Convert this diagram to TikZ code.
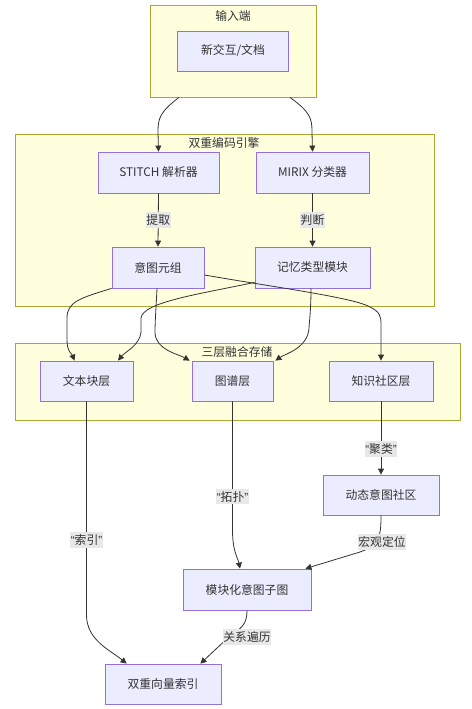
\documentclass[tikz,border=0pt]{standalone}
\usepackage{fontspec}
\setmainfont{Noto Sans CJK SC}
\newfontfamily\latq{Liberation Sans}
\newcommand{\myLQ}{{\latq “}}
\newcommand{\myRQ}{{\latq ”}}
\usetikzlibrary{arrows.meta,calc}
\definecolor{nodefill}{HTML}{ECECFF}
\definecolor{nodeline}{HTML}{9370DB}
\definecolor{clfill}{HTML}{FFFFDE}
\definecolor{clline}{HTML}{AAAA33}
\definecolor{txt}{HTML}{333333}
\definecolor{lblbg}{HTML}{E8E8E8}
\begin{document}
\begin{tikzpicture}[x=1pt,y=-1pt,
  box/.style={draw=nodeline, fill=nodefill, line width=0.8pt, text=txt, font=\fontsize{11.8}{13}\selectfont, inner sep=0pt, minimum height=41pt},
  cluster/.style={draw=clline, fill=clfill, line width=0.8pt, inner sep=0pt},
  title/.style={text=txt, font=\fontsize{11.8}{13}\selectfont, inner sep=0pt},
  lbl/.style={fill=lblbg, text=txt, font=\fontsize{11.8}{13}\selectfont, inner xsep=0.5pt, inner ysep=2.5pt},
  edge/.style={draw=txt, line width=0.8pt, -{Triangle[length=6pt,width=6pt]}}]
\useasboundingbox (0,0) rectangle (471,709);
\fill[white] (0,0) rectangle (471,709);
% clusters
\node[cluster, minimum width=166pt, minimum height=92pt] (c1) at (233,51) {};
\node[cluster, minimum width=419pt, minimum height=172pt] (c2) at (224.5,220) {};
\node[cluster, minimum width=445pt, minimum height=77pt] (c3) at (237.5,381.5) {};
\node[title] (t1) at (233,16) {输入端};
\node[title] (t2) at (224,143) {双重编码引擎};
\node[title] (t3) at (237,352) {三层融合存储};
% nodes
\node[box, minimum width=111pt, minimum height=40pt] (in) at (233,51) {新交互/文档};
\node[box, minimum width=121pt] (stitch) at (158.5,172.5) {STITCH 解析器};
\node[box, minimum width=113pt] (mirix) at (312.5,172.5) {MIRIX 分类器};
\node[box, minimum width=92pt] (tuple) at (158,267.5) {意图元组};
\node[box, minimum width=115pt] (memtype) at (312.5,267.5) {记忆类型模块};
\node[box, minimum width=93pt, minimum height=40pt] (text) at (86.5,381) {文本块层};
\node[box, minimum width=81pt, minimum height=40pt] (graph) at (232.5,381) {图谱层};
\node[box, minimum width=104pt, minimum height=40pt] (comm) at (381,381) {知识社区层};
\node[box, minimum width=116pt, minimum height=40pt] (dyn) at (381,495) {动态意图社区};
\node[box, minimum width=128pt] (sub) at (247,589.5) {模块化意图子图};
\node[box, minimum width=116pt, minimum height=40pt] (vec) at (163,684) {双重向量索引};
% edges
\draw[edge] ($(c1.south)+(-54,0)$) .. controls (160,112) and (158,118) .. (158,132) -- (stitch.north);
\draw[edge] ($(c1.south)+(57,0)$) .. controls (310,112) and (312,118) .. (312,132) -- (mirix.north);
\draw[edge] (stitch.south) -- node[lbl] {提取} (tuple.north);
\draw[edge] (mirix.south) -- node[lbl] {判断} (memtype.north);
\draw[edge] (tuple.south west) .. controls (80,298) and (67,302) .. (67,318) -- (67,340) .. controls (67,352) and (72,354) .. ($(text.north)+(-12,0)$);
\draw[edge] ($(memtype.south west)+(0,-6)$) .. controls (200,294) and (143,302) .. (141,318) -- (141,332) .. controls (140,345) and (125,352) .. ($(text.north)+(31.5,0)$);
\draw[edge] ($(tuple.south)+(-1,0)$) .. controls (156,310) and (155,320) .. (155,333) .. controls (156,350) and (178,354) .. ($(graph.north west)+(-2,0)$);
\draw[edge] ($(memtype.south)+(-1.5,0)$) .. controls (311,305) and (310,315) .. (309,328) .. controls (308,348) and (285,354) .. ($(graph.north east)+(2,0)$);
\draw[edge] ($(tuple.east)+(0,7.5)$) .. controls (280,288) and (355,298) .. (370,307) .. controls (380,312) and (381,316) .. (381,325) -- (comm.north);
\draw[edge] (text.south) -- node[lbl, pos=0.65] {\myLQ 索引\myRQ} (86.5,615) .. controls (86.5,640) and (110,650) .. ($(vec.north west)+(22,0)$);
\draw[edge] (graph.south) -- node[lbl, pos=0.74] {\myLQ 拓扑\myRQ} (232.5,530) .. controls (232.5,552) and (238,558) .. ($(sub.north)+(-7,0)$);
\draw[edge] (comm.south) -- node[lbl, pos=0.65] {\myLQ 聚类\myRQ} (dyn.north);
\draw[edge] (dyn.south) .. controls (381,535) and (380,545) .. (360,552) -- ($(sub.north east)+(-6,0)$);
\draw[edge] (sub.south) .. controls (247,622) and (243,628) .. (232,634) -- ($(vec.north east)+(-21,0)$);
\node[lbl] (l6) at (382,542) {宏观定位};
\node[lbl] (l7) at (247,637) {关系遍历};
\end{tikzpicture}
\end{document}
